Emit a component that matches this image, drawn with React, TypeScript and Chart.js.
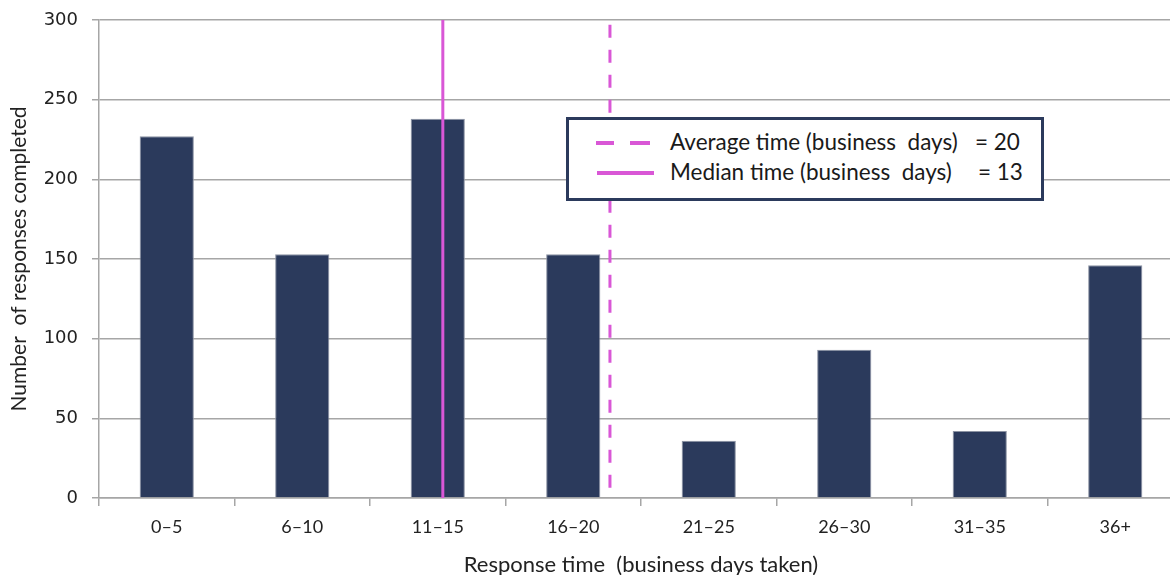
import React, { useEffect, useRef } from "react";
import { Chart, registerables } from "chart.js";

Chart.register(...registerables);

const categories = ["0–5", "6–10", "11–15", "16–20", "21–25", "26–30", "31–35", "36+"];
const responses = [227, 153, 238, 153, 36, 93, 42, 146];
const averageDays = 20;
const medianDays = 13;
const yTicks = [0, 50, 100, 150, 200, 250, 300];
const averageLabel = "Average time (business  days)";
const medianLabel = "Median time (business  days)";
const averageValueLabel = "= " + averageDays;
const medianValueLabel = "= " + medianDays;

const NAVY = "#2B3A5C";
const MAGENTA = "#D957D6";
const GRID = "#A6A6A6";

export default function App() {
  const ref = useRef<HTMLCanvasElement>(null);

  useEffect(() => {
    document.body.style.margin = "0";
    document.body.style.overflow = "hidden";
    const ctx = ref.current!;
    const chart = new Chart(ctx, {
      type: "bar",
      data: {
        labels: categories,
        datasets: [
          {
            type: "line",
            label: "median",
            data: [
              { x: medianDays, y: yTicks[0] },
              { x: medianDays, y: yTicks[yTicks.length - 1] },
            ],
            xAxisID: "x2",
            yAxisID: "y",
            borderColor: MAGENTA,
            borderWidth: 3,
            pointRadius: 0,
            order: 0,
          } as any,
          {
            type: "line",
            label: "average",
            data: [
              { x: averageDays, y: yTicks[yTicks.length - 1] - 3 },
              { x: averageDays, y: yTicks[0] },
            ],
            xAxisID: "x2",
            yAxisID: "y",
            borderColor: MAGENTA,
            borderWidth: 3,
            borderDash: [13, 12],
            pointRadius: 0,
            order: 0,
          } as any,
          {
            type: "bar",
            label: "responses",
            data: responses,
            xAxisID: "x",
            yAxisID: "y",
            backgroundColor: NAVY,
            borderColor: "#8C93A3",
            borderWidth: 1,
            barPercentage: 0.4,
            categoryPercentage: 1.0,
            grouped: false,
            order: 1,
          } as any,
        ],
      },
      options: {
        animation: false,
        responsive: true,
        maintainAspectRatio: false,
        layout: { padding: { top: 20, right: 0, left: 0, bottom: 0 } },
        plugins: { legend: { display: false }, tooltip: { enabled: false } },
        scales: {
          x: {
            type: "category",
            offset: true,
            afterFit: (s: any) => {
              s.height = 92;
              s.paddingLeft = 0;
              s.paddingRight = 0;
            },
            grid: {
              display: true,
              drawOnChartArea: false,
              drawTicks: true,
              tickLength: 8,
              color: GRID,
              lineWidth: 1.5,
              offset: true,
            },
            border: { color: GRID, width: 1.5 },
            ticks: {
              color: "#222",
              font: { family: "Lato", size: 18 },
              padding: 10,
              maxRotation: 0,
            },
            title: {
              display: true,
              text: "Response time  (business days taken)",
              color: "#222",
              font: { family: "Lato", size: 22 },
              padding: { top: 0, bottom: 12 },
            },
          },
          x2: {
            type: "linear",
            display: false,
            offset: false,
            grid: { offset: false },
            min: -1.4,
            max: 44,
          },
          y: {
            min: 0,
            max: 300,
            afterFit: (s: any) => {
              s.width = 99;
              s.paddingTop = 0;
              s.paddingBottom = 0;
            },
            afterBuildTicks: (s: any) => {
              s.ticks = yTicks.map((v) => ({ value: v }));
            },
            grid: {
              color: GRID,
              lineWidth: 1.5,
              drawTicks: true,
              tickLength: 7,
            },
            border: { color: GRID, width: 1.5 },
            ticks: {
              color: "#222",
              font: { family: "DejaVu Sans", size: 18 },
              padding: 14,
            },
            title: {
              display: true,
              text: "Number  of responses completed",
              color: "#222",
              font: { family: "Lato", size: 21 },
              padding: { top: 7, bottom: 0 },
            },
          },
        },
      },
    });
    return () => chart.destroy();
  }, []);

  const textStyle: React.CSSProperties = {
    position: "absolute",
    fontFamily: "Lato",
    fontSize: 22.5,
    lineHeight: "26px",
    color: "#1a1a1a",
    whiteSpace: "pre",
  };

  return (
    <div
      style={{
        position: "fixed",
        left: 0,
        top: 0,
        width: 1170,
        height: 575,
        overflow: "hidden",
        background: "#fff",
      }}
    >
      <div style={{ position: "absolute", left: 0, top: 0, width: 1183, height: 590 }}>
        <canvas ref={ref} />
      </div>
      <div
        style={{
          position: "absolute",
          left: 566,
          top: 117,
          width: 478,
          height: 84,
          boxSizing: "border-box",
          border: `3px solid ${NAVY}`,
          background: "#fff",
        }}
      >
        <div style={{ position: "absolute", left: 27, top: 21, width: 18, height: 4, background: MAGENTA }} />
        <div style={{ position: "absolute", left: 61, top: 21, width: 20, height: 4, background: MAGENTA }} />
        <div style={{ position: "absolute", left: 28, top: 51, width: 57, height: 4, background: MAGENTA }} />
        <div style={{ ...textStyle, left: 101, top: 9 }}>{averageLabel}</div>
        <div style={{ ...textStyle, left: 406, top: 9 }}>{averageValueLabel}</div>
        <div style={{ ...textStyle, left: 101, top: 39 }}>{medianLabel}</div>
        <div style={{ ...textStyle, left: 409, top: 39 }}>{medianValueLabel}</div>
      </div>
    </div>
  );
}
